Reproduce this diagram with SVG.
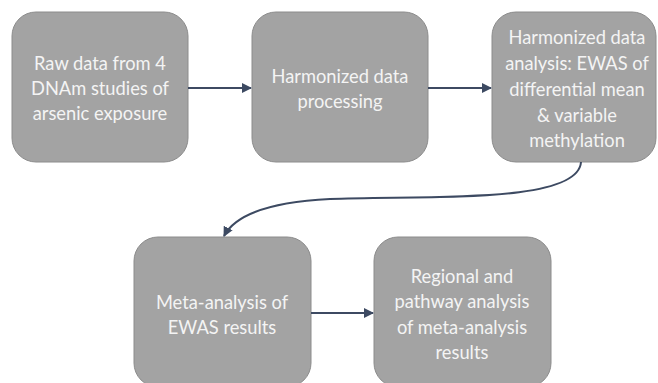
<svg xmlns="http://www.w3.org/2000/svg" width="658" height="383" viewBox="0 0 658 383">
<style>
.box{fill:#a3a3a3;stroke:#8c8c8c;stroke-width:1}
.t{font-family:Lato,"Open Sans","Liberation Sans",sans-serif;font-size:18.3px;fill:#f4f4f4;text-anchor:middle}
.c{fill:none;stroke:#3d4a62;stroke-width:2}
</style>
<defs>
<marker id="ah" viewBox="0 0 10 10" refX="9" refY="5" markerWidth="5" markerHeight="5" orient="auto" markerUnits="strokeWidth">
<path d="M0,0 L10,5 L0,10 z" fill="#3d4a62"/>
</marker>
</defs>
<rect width="658" height="383" fill="#ffffff"/>
<g id="n1">
<rect class="box" x="12" y="12" width="176" height="150" rx="24"/>
<text class="t" x="100" y="70">Raw data from 4</text>
<text class="t" x="100" y="95">DNAm studies of</text>
<text class="t" x="100" y="120">arsenic exposure</text>
</g>
<g id="n2">
<rect class="box" x="252" y="12" width="176" height="150" rx="24"/>
<text class="t" x="340" y="83">Harmonized data</text>
<text class="t" x="340" y="108">processing</text>
</g>
<g id="n3">
<rect class="box" x="492" y="12" width="164" height="150" rx="24"/>
<text class="t" x="577" y="44">Harmonized data</text>
<text class="t" x="577" y="70">analysis: EWAS of</text>
<text class="t" x="577" y="96">differential mean</text>
<text class="t" x="577" y="122">&amp; variable</text>
<text class="t" x="577" y="147">methylation</text>
</g>
<g id="n4">
<rect class="box" x="134" y="237" width="177" height="150" rx="24"/>
<text class="t" x="222" y="309">Meta-analysis of</text>
<text class="t" x="222" y="334">EWAS results</text>
</g>
<g id="n5">
<rect class="box" x="374" y="237" width="177" height="150" rx="24"/>
<text class="t" x="462" y="283">Regional and</text>
<text class="t" x="462" y="308">pathway analysis</text>
<text class="t" x="462" y="334">of meta-analysis</text>
<text class="t" x="462" y="359">results</text>
</g>
<g id="connectors">
<line class="c" x1="188" y1="88" x2="251" y2="88" marker-end="url(#ah)"/>
<line class="c" x1="428" y1="88" x2="491" y2="88" marker-end="url(#ah)"/>
<path class="c" d="M581,162 C578,205 420,195 330,199 C270,202 235,215 224,236" marker-end="url(#ah)"/>
<line class="c" x1="311" y1="313" x2="373" y2="313" marker-end="url(#ah)"/>
</g>
</svg>
